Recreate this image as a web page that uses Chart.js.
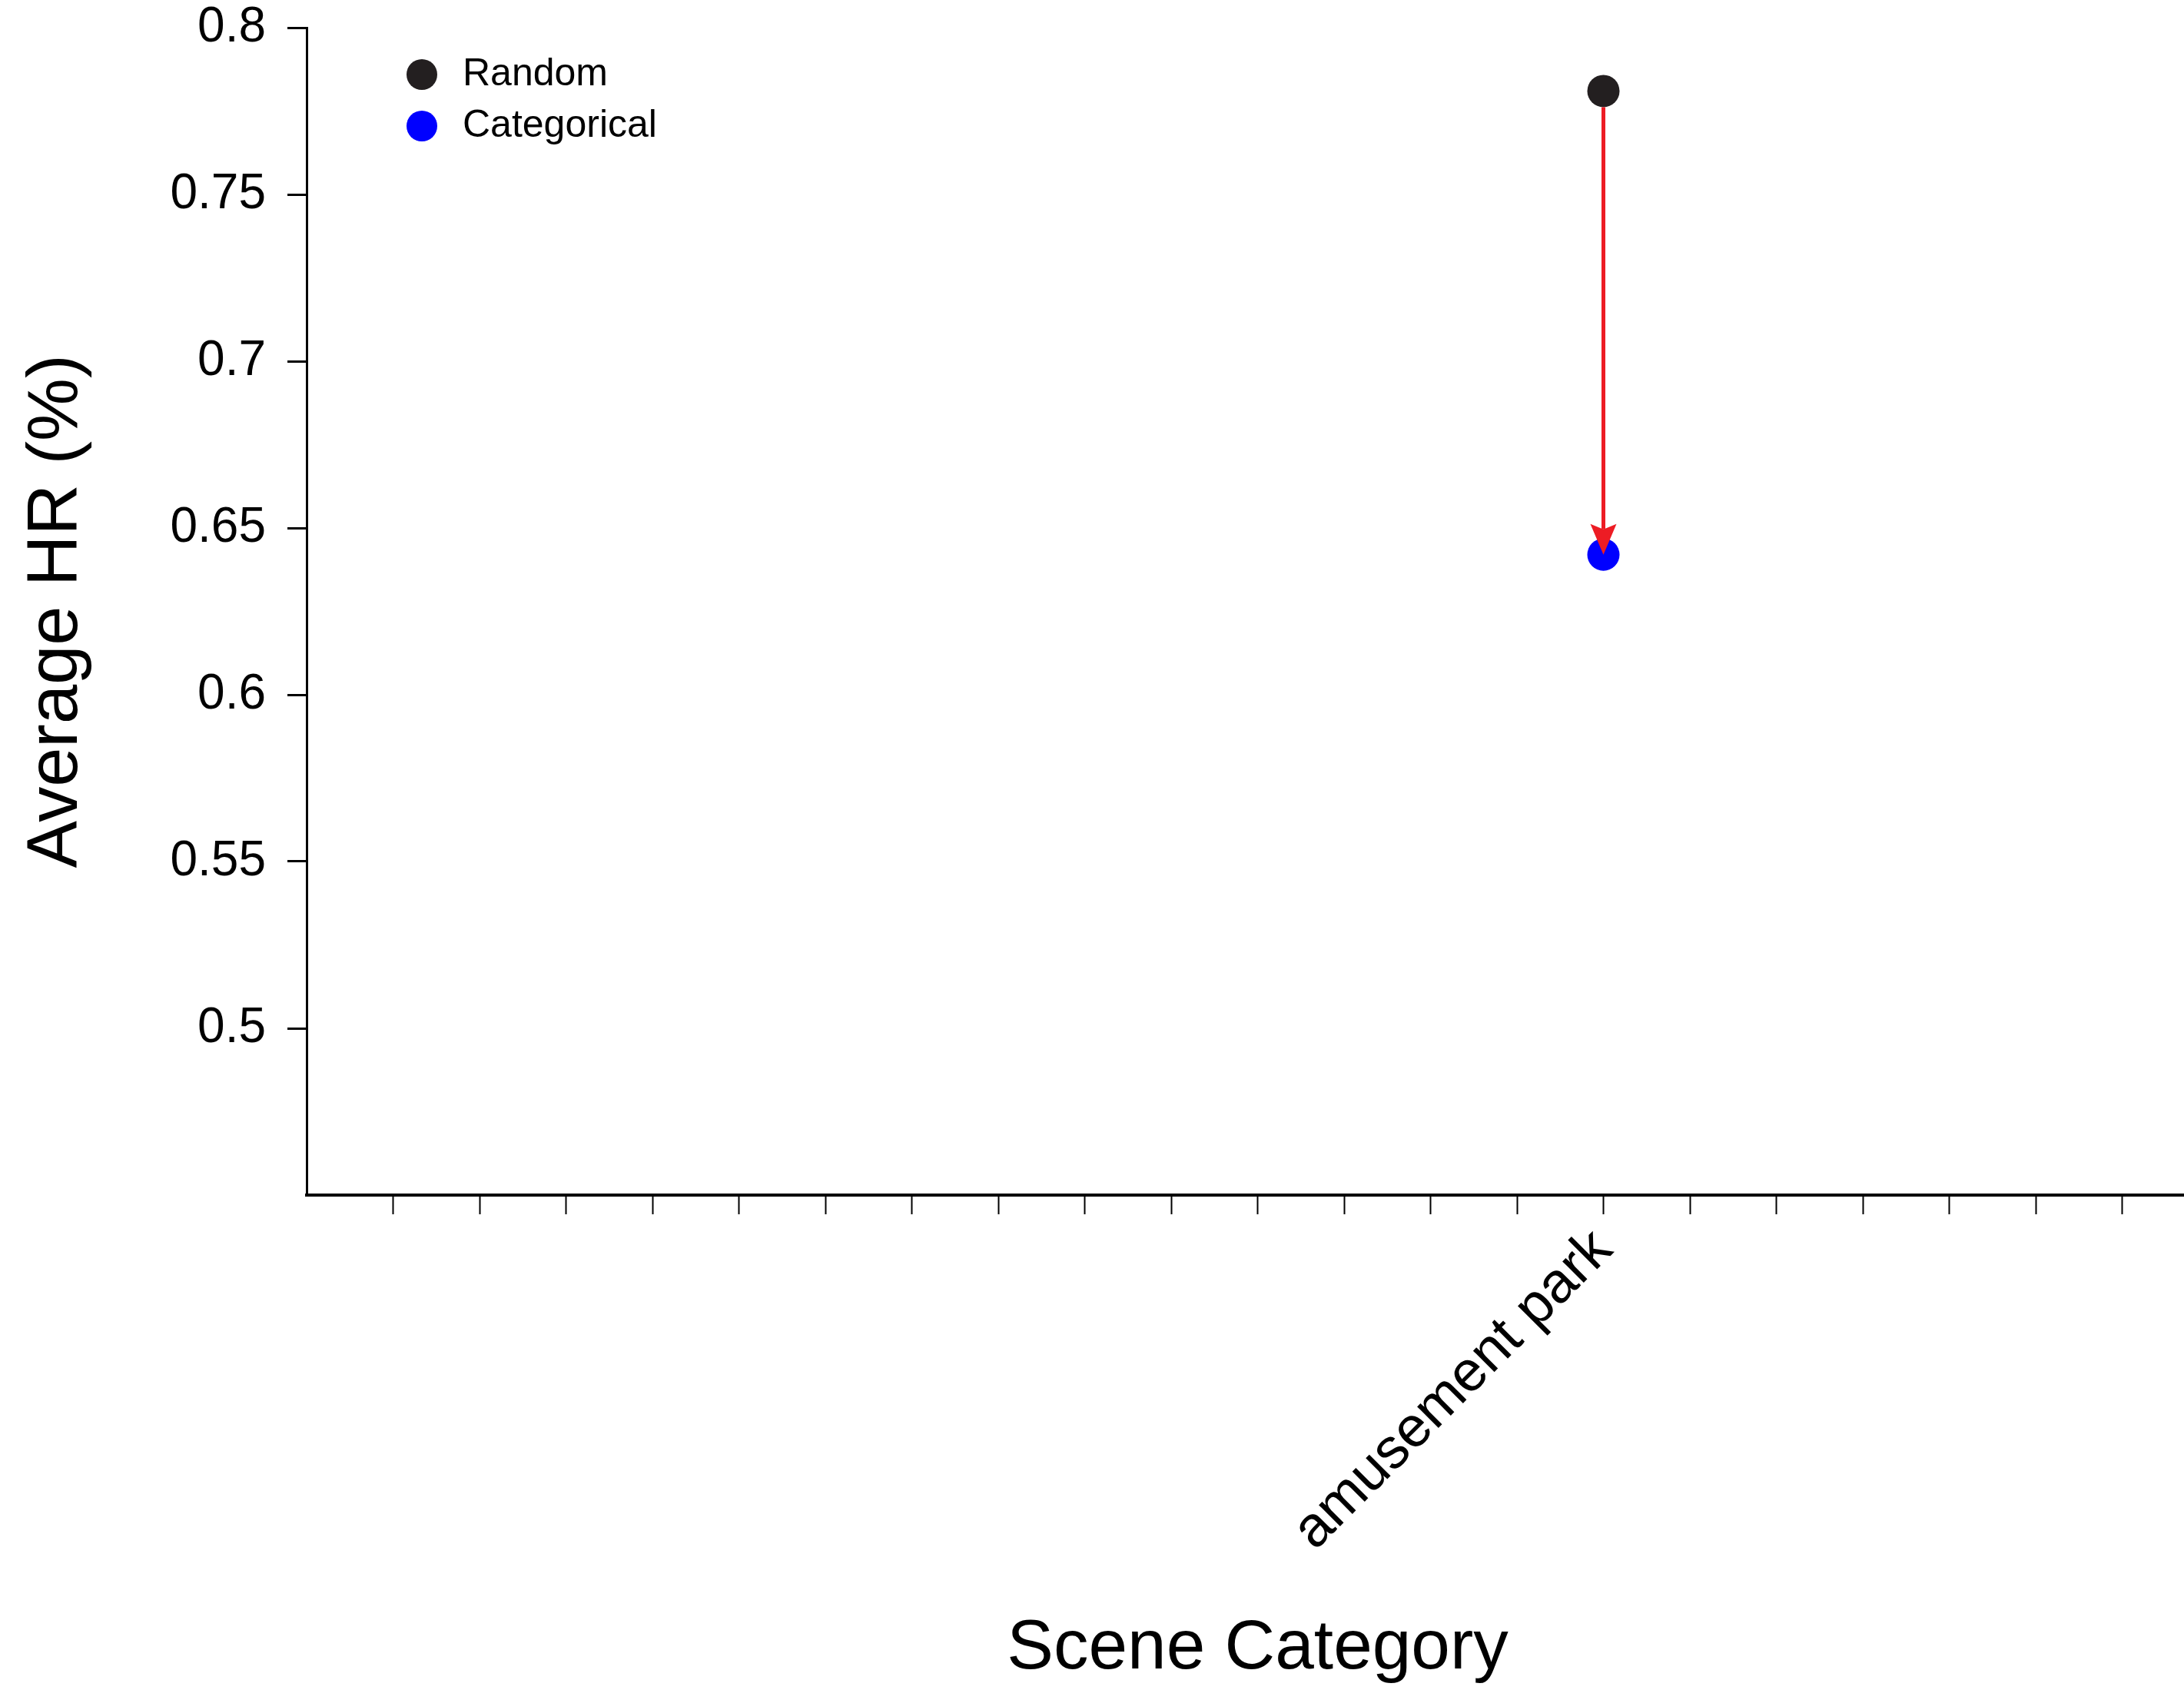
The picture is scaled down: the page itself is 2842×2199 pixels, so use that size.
<!DOCTYPE html>
<html>
<head>
<meta charset="utf-8">
<title>Average HR by Scene Category</title>
<script src="https://cdn.jsdelivr.net/npm/chart.js@4/dist/chart.umd.min.js"></script>
<style>
  html, body { margin: 0; padding: 0; background: #ffffff; overflow: hidden; width: 2842px; height: 2199px; }
  #wrap { width: 2895px; height: 2199px; }
  canvas { display: block; }
</style>
</head>
<body>
<div id="wrap"><canvas id="chart" width="2895" height="2199"></canvas></div>
<script>
// ---- data ----
const categories = [
  '', '', '', '', '', '', '', '', '', '', '', '', '', '',
  'amusement park',
  '', '', '', '', '', ''
];
const randomHR = [
  null, null, null, null, null, null, null, null, null, null, null, null, null, null,
  0.781,
  null, null, null, null, null, null
];
const categoricalHR = [
  null, null, null, null, null, null, null, null, null, null, null, null, null, null,
  0.642,
  null, null, null, null, null, null
];
const seriesNames = ['Random', 'Categorical'];
const yTickValues = [0.5, 0.55, 0.6, 0.65, 0.7, 0.75, 0.8];
const yTickLabels = ['0.5', '0.55', '0.6', '0.65', '0.7', '0.75', '0.8'];

const FONT = "'Liberation Sans', Arial, Helvetica, sans-serif";

function toPoints(values) {
  const pts = [];
  values.forEach((v, i) => { if (v !== null) pts.push({ x: i + 1, y: v }); });
  return pts;
}

// arrows from Random to Categorical value, drawn via the chart scales
const arrowPlugin = {
  id: 'shiftArrows',
  afterDatasetsDraw(chart) {
    const { ctx, scales } = chart;
    const xs = scales.x, ys = scales.y;
    const r = 21, head = 40, notch = 7, hw = 17;
    ctx.save();
    ctx.strokeStyle = '#ed1c24';
    ctx.fillStyle = '#ed1c24';
    ctx.lineWidth = 5;
    categories.forEach((c, i) => {
      const a = randomHR[i], b = categoricalHR[i];
      if (a === null || b === null) return;
      const px = xs.getPixelForValue(i + 1);
      const y1 = ys.getPixelForValue(a);
      const y2 = ys.getPixelForValue(b);
      const dir = Math.sign(y2 - y1) || 1;
      ctx.beginPath();
      ctx.moveTo(px, y1 + dir * r);
      ctx.lineTo(px, y2 - dir * (head - notch));
      ctx.stroke();
      ctx.beginPath();
      ctx.moveTo(px, y2);
      ctx.lineTo(px - hw, y2 - dir * head);
      ctx.lineTo(px, y2 - dir * (head - notch));
      ctx.lineTo(px + hw, y2 - dir * head);
      ctx.closePath();
      ctx.fill();
    });
    ctx.restore();
  }
};

// legend placed inside the plot area, top-left
const insetLegend = {
  id: 'insetLegend',
  afterDraw(chart, args, opts) {
    const { ctx, chartArea } = chart;
    ctx.save();
    chart.data.datasets.forEach((ds, i) => {
      const cx = chartArea.left + opts.offsetX;
      const cy = chartArea.top + opts.offsetY + i * opts.rowGap;
      ctx.beginPath();
      ctx.arc(cx, cy, opts.radius, 0, Math.PI * 2);
      ctx.fillStyle = ds.backgroundColor;
      ctx.fill();
      ctx.fillStyle = '#000000';
      ctx.font = opts.fontSize + 'px ' + FONT;
      ctx.textBaseline = 'middle';
      ctx.textAlign = 'left';
      ctx.fillText(ds.label, cx + opts.textGap, cy);
    });
    ctx.restore();
  }
};

const ctx = document.getElementById('chart').getContext('2d');
new Chart(ctx, {
  type: 'scatter',
  data: {
    datasets: [
      {
        label: seriesNames[0],
        data: toPoints(randomHR),
        backgroundColor: '#231f20',
        borderColor: '#231f20',
        pointRadius: 21,
        pointHoverRadius: 21,
        pointBorderWidth: 0
      },
      {
        label: seriesNames[1],
        data: toPoints(categoricalHR),
        backgroundColor: '#0000ff',
        borderColor: '#0000ff',
        pointRadius: 21,
        pointHoverRadius: 21,
        pointBorderWidth: 0
      }
    ]
  },
  options: {
    responsive: false,
    animation: false,
    devicePixelRatio: 1,
    layout: { padding: { top: 36, right: 9, left: 0, bottom: 0 } },
    plugins: {
      legend: { display: false },
      tooltip: { enabled: false },
      insetLegend: { offsetX: 150, offsetY: 61, rowGap: 67, radius: 20, textGap: 53, fontSize: 50 }
    },
    scales: {
      x: {
        type: 'linear',
        min: 0,
        max: 22,
        afterBuildTicks(scale) {
          scale.ticks = categories.map((c, i) => ({ value: i + 1 }));
        },
        afterFit(scale) {
          scale.height = 644;
          scale.paddingLeft = 0;
          scale.paddingRight = 0;
        },
        ticks: {
          autoSkip: false,
          maxRotation: 45,
          minRotation: 45,
          padding: 3,
          color: '#000000',
          font: { family: FONT, size: 74 },
          callback(value) { return categories[value - 1] || ''; }
        },
        grid: {
          display: true,
          drawOnChartArea: false,
          drawTicks: true,
          tickLength: 25,
          tickWidth: 2,
          tickColor: '#000000',
          color: '#000000'
        },
        border: { display: true, color: '#000000', width: 4 },
        title: {
          display: true,
          text: 'Scene Category',
          color: '#000000',
          font: { family: FONT, size: 91, lineHeight: 1 },
          padding: { top: 0, bottom: 8 }
        }
      },
      y: {
        type: 'linear',
        min: 0.45,
        max: 0.8,
        afterBuildTicks(scale) {
          scale.ticks = yTickValues.map(v => ({ value: v }));
        },
        afterFit(scale) {
          scale.width = 399;
          scale.paddingTop = 0;
          scale.paddingBottom = 0;
        },
        ticks: {
          padding: 28,
          color: '#000000',
          font: { family: FONT, size: 64, lineHeight: 1.1 },
          callback(value) {
            const idx = yTickValues.findIndex(v => Math.abs(v - value) < 1e-9);
            return idx >= 0 ? yTickLabels[idx] : '';
          }
        },
        grid: {
          display: true,
          drawOnChartArea: false,
          drawTicks: true,
          tickLength: 25,
          tickWidth: 3,
          tickColor: '#000000',
          color: '#000000'
        },
        border: { display: true, color: '#000000', width: 3 },
        title: {
          display: true,
          text: 'Average HR (%)',
          color: '#000000',
          font: { family: FONT, size: 92, lineHeight: 1 },
          padding: { top: 29, bottom: 0 }
        }
      }
    }
  },
  plugins: [arrowPlugin, insetLegend]
});
</script>
</body>
</html>
